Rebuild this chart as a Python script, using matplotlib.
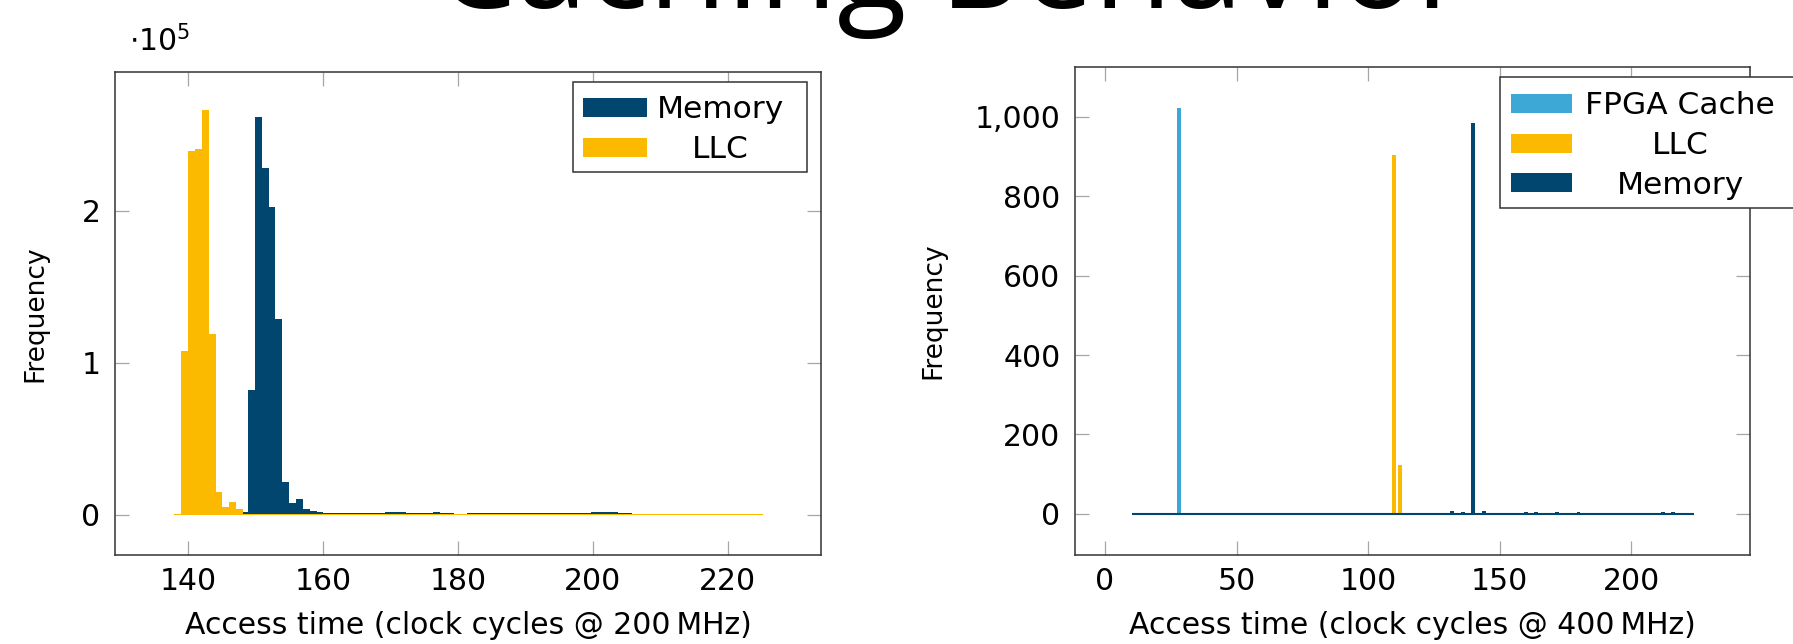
import numpy as np
import matplotlib
matplotlib.use("Agg")
import matplotlib.pyplot as plt
from matplotlib.patches import Rectangle
from matplotlib.ticker import FuncFormatter, MultipleLocator

W, H = 1793, 644
C_MEM = "#00466f"
C_LLC = "#fbba00"
C_FPGA = "#3da8d6"

# ---- left chart: histograms, 200 MHz ----
llc_start, llc_width = 137.93, 1.027
llc_counts = [700, 108100, 239600, 241100, 266200, 119100, 14900, 4800, 8400, 3700, 600,
              500, 450, 400, 450, 400, 350, 400, 400, 350, 400,
              400, 350, 350, 400, 400, 450, 400, 350, 400, 400,
              350, 350, 400, 400, 350, 400, 450, 400, 350, 350,
              400, 400, 350, 400, 400, 350, 350, 400, 450, 400,
              400, 350, 400, 400, 350, 350, 400, 400, 450, 400,
              350, 400, 400, 350, 400, 400, 350, 350, 400, 450,
              400, 400, 350, 400, 400, 350, 400, 450, 400, 350,
              400, 400, 350, 400]
mem_start, mem_width = 147.9, 1.015
mem_counts = [1800, 82000, 262200, 228600, 202400, 129000, 21300, 7700, 10500, 3700, 2200, 1500,
              1400, 1200, 1100, 1100, 1000, 1000, 1100, 1200, 1300,
              1600, 1700, 1500, 1300,
              1200, 1300, 1400, 1500, 1400, 1300,
              500, 600, 900,
              1000, 1100, 1000, 1100, 1000, 1000, 1100, 1100, 1000, 1100, 1200, 1200,
              1200, 1300, 1300, 1400, 1400, 1500, 1700,
              1800, 1600, 1300,
              900, 700, 500,
              150, 100, 100, 150, 100, 100, 100, 150, 100, 100, 100, 150, 100, 100, 100, 150, 100]

# ---- right chart: spikes, 400 MHz ----
time_range = [10.4, 223.8]
fpga_x = [28]
fpga_y = [1023]
llc2_x = [110, 112]
llc2_y = [903, 123]
mem2_x = [124, 132, 136, 140, 144, 156, 160, 164, 168, 172, 176, 180,
          188, 192, 196, 200, 204, 208, 212, 216]
mem2_y = [2, 7, 4, 985, 7, 3, 4, 5, 3, 4, 3, 5, 3, 3, 3, 3, 3, 3, 4, 4]


def fx(p):
    return p / W


def fy(p):
    return 1 - p / H


plt.rcParams["font.family"] = "DejaVu Sans"
fig = plt.figure(figsize=(W / 100, H / 100), dpi=100)
ax1 = fig.add_axes([fx(115), fy(555), fx(821) - fx(115), fy(72) - fy(555)])
ax2 = fig.add_axes([fx(1075), fy(555), fx(1750) - fx(1075), fy(67) - fy(555)])

for ax in (ax1, ax2):
    ax.tick_params(direction="in", length=10, width=0.9, color="#a6a6a6",
                   top=True, right=True, labelsize=21.5)
    ax.tick_params(axis="x", pad=8.5)
    ax.tick_params(axis="y", pad=10.5)
    for s in ax.spines.values():
        s.set_linewidth(1.1)
        s.set_color("#333333")

# left
mem_edges = mem_start + mem_width * np.arange(len(mem_counts) + 1)
llc_edges = llc_start + llc_width * np.arange(len(llc_counts) + 1)
ax1.stairs(mem_counts, mem_edges, fill=True, color=C_MEM)
ax1.stairs(llc_counts, llc_edges, fill=True, color=C_LLC)
ax1.set_xlim(129.2, 233.8)
ax1.set_ylim(-26500, 291500)
ax1.xaxis.set_major_locator(MultipleLocator(20))
ax1.yaxis.set_major_locator(MultipleLocator(100000))
ax1.yaxis.set_major_formatter(FuncFormatter(lambda v, p: f"{v / 1e5:.0f}"))
ax1.text(0.02, 1.03, r"$\cdot10^{5}$", transform=ax1.transAxes, fontsize=21.5,
         ha="left", va="bottom")
ax1.set_xlabel("Access time (clock cycles @ 200\u2009MHz)", fontsize=21.5)
ax1.xaxis.set_label_coords(0.5, -0.115)
ax1.set_ylabel("Frequency", fontsize=19)
ax1.yaxis.set_label_coords(-0.095, 0.5)

# right
ax2.bar(fpga_x, fpga_y, width=1.5, color=C_FPGA, linewidth=0)
ax2.bar(llc2_x, llc2_y, width=1.5, color=C_LLC, linewidth=0)
ax2.bar(mem2_x, mem2_y, width=1.5, color=C_MEM, linewidth=0)
ax2.hlines(0, time_range[0], time_range[1], color=C_MEM, linewidth=1.5)
ax2.set_xlim(-11.4, 245.2)
ax2.set_ylim(-104, 1126)
ax2.xaxis.set_major_locator(MultipleLocator(50))
ax2.yaxis.set_major_locator(MultipleLocator(200))
ax2.yaxis.set_major_formatter(FuncFormatter(lambda v, p: f"{v:,.0f}"))
ax2.set_xlabel("Access time (clock cycles @ 400\u2009MHz)", fontsize=21.5)
ax2.xaxis.set_label_coords(0.5, -0.115)
ax2.set_ylabel("Frequency", fontsize=19)
ax2.yaxis.set_label_coords(-0.19, 0.5)


def legend_box(box, px0, px1, entries, text_cx):
    x0, y0, x1, y1 = box
    fig.add_artist(Rectangle((fx(x0), fy(y1)), fx(x1) - fx(x0), fy(y0) - fy(y1),
                             transform=fig.transFigure, facecolor="white",
                             edgecolor="#333333", linewidth=1.1, zorder=5))
    for label, color, cy in entries:
        fig.add_artist(Rectangle((fx(px0), fy(cy + 9.5)), fx(px1) - fx(px0),
                                 fy(cy - 9.5) - fy(cy + 9.5), transform=fig.transFigure,
                                 facecolor=color, edgecolor="none", zorder=6))
        fig.text(fx(text_cx), fy(cy + 11), label, ha="center", va="baseline",
                 fontsize=22.5, zorder=6)


legend_box((572.7, 82.3, 806.7, 171.7), 583, 647,
           [("Memory", C_MEM, 107.5), ("LLC", C_LLC, 147)], 720)
legend_box((1500, 77.3, 1800, 208.3), 1510.7, 1571.7,
           [("FPGA Cache", C_FPGA, 103), ("LLC", C_LLC, 143), ("Memory", C_MEM, 182.5)], 1680)

fig.text(fx(952), fy(8), "Caching Behavior", ha="center", va="baseline",
         fontsize=92, family="Open Sans")

fig.savefig("out.png", dpi=100)
